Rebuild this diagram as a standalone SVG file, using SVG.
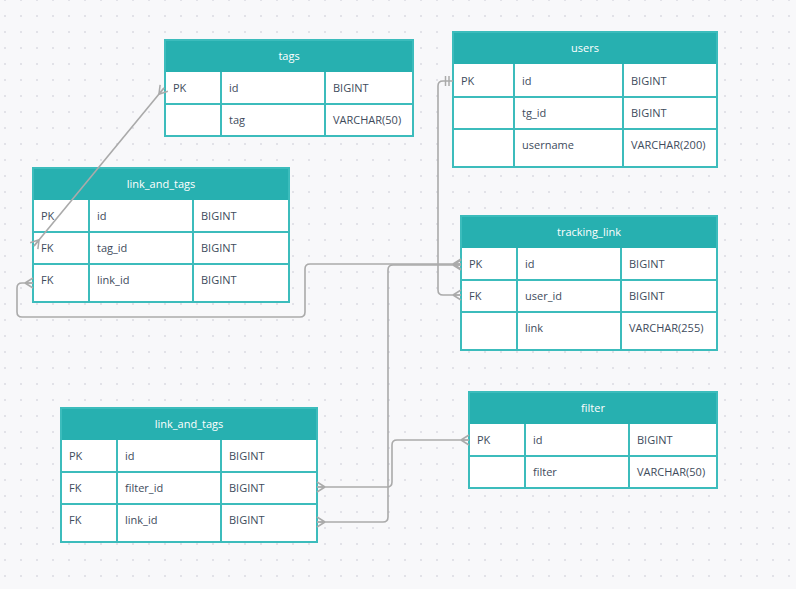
<svg xmlns="http://www.w3.org/2000/svg" width="796" height="589" viewBox="0 0 796 589">
<defs>
<pattern id="dots" patternUnits="userSpaceOnUse" x="0" y="8" width="16" height="16">
<rect x="4" y="7" width="2" height="2" fill="#e2e2e8"/>
</pattern>
<marker id="crow" markerUnits="userSpaceOnUse" viewBox="-10 -8 12 16" markerWidth="12" markerHeight="16" refX="0" refY="0" orient="auto-start-reverse">
<path d="M -8 0 L 0 -5 M -8 0 L 0 5 M -8 0 L 0 0" fill="none" stroke="#aaaaaa" stroke-width="1.5"/>
</marker>
<marker id="one" markerUnits="userSpaceOnUse" viewBox="-10 -8 12 16" markerWidth="12" markerHeight="16" refX="0" refY="0" orient="auto-start-reverse">
<path d="M -7.5 -5 L -7.5 5 M -4 -5 L -4 5" fill="none" stroke="#aaaaaa" stroke-width="1.5"/>
</marker>
</defs>
<style>
.hdr{fill:#27b0b0;}
.box{fill:#ffffff;stroke:#3cbcbc;stroke-width:2;}
.ln{stroke:#3cbcbc;stroke-width:2;fill:none;}
.ht{font-family:"Open Sans","Noto Sans",sans-serif;font-size:11px;fill:#ffffff;text-anchor:middle;}
.t{font-family:"Open Sans","Noto Sans",sans-serif;font-size:11px;fill:#404b5c;}
.c{fill:none;stroke:#aaaaaa;stroke-width:1.6;}
</style>
<rect x="0" y="0" width="796" height="589" fill="#f8f8fa"/>
<rect x="0" y="0" width="796" height="589" fill="url(#dots)"/>

<g id="tags">
<rect class="box" x="165" y="40" width="248" height="96"/>
<rect class="hdr" x="165" y="40" width="248" height="32"/>
<path class="ln" d="M 165 104 H 413 M 221 72 V 136 M 325 72 V 136"/>
<rect class="ln" x="165" y="40" width="248" height="96"/>
<text class="ht" x="289" y="60">tags</text>
<text class="t" x="173" y="92">PK</text><text class="t" x="229" y="92">id</text><text class="t" x="333" y="92">BIGINT</text>
<text class="t" x="229" y="124">tag</text><text class="t" x="333" y="124">VARCHAR(50)</text>
</g>

<g id="users">
<rect class="box" x="453" y="32" width="264" height="135"/>
<rect class="hdr" x="453" y="32" width="264" height="32"/>
<path class="ln" d="M 453 97 H 717 M 453 129 H 717 M 514 64 V 167 M 623 64 V 167"/>
<rect class="ln" x="453" y="32" width="264" height="135"/>
<text class="ht" x="585" y="52">users</text>
<text class="t" x="461" y="85">PK</text><text class="t" x="522" y="85">id</text><text class="t" x="631" y="85">BIGINT</text>
<text class="t" x="522" y="117">tg_id</text><text class="t" x="631" y="117">BIGINT</text>
<text class="t" x="522" y="149">username</text><text class="t" x="631" y="149">VARCHAR(200)</text>
</g>

<g id="link_and_tags_top">
<rect class="box" x="33" y="168" width="256" height="134"/>
<rect class="hdr" x="33" y="168" width="256" height="32"/>
<path class="ln" d="M 33 232 H 289 M 33 264 H 289 M 89 200 V 302 M 193 200 V 302"/>
<rect class="ln" x="33" y="168" width="256" height="134"/>
<text class="ht" x="161" y="188">link_and_tags</text>
<text class="t" x="41" y="220">PK</text><text class="t" x="97" y="220">id</text><text class="t" x="201" y="220">BIGINT</text>
<text class="t" x="41" y="252">FK</text><text class="t" x="97" y="252">tag_id</text><text class="t" x="201" y="252">BIGINT</text>
<text class="t" x="41" y="284">FK</text><text class="t" x="97" y="284">link_id</text><text class="t" x="201" y="284">BIGINT</text>
</g>

<g id="tracking_link">
<rect class="box" x="461" y="216" width="256" height="134"/>
<rect class="hdr" x="461" y="216" width="256" height="32"/>
<path class="ln" d="M 461 280 H 717 M 461 312 H 717 M 517 248 V 350 M 621 248 V 350"/>
<rect class="ln" x="461" y="216" width="256" height="134"/>
<text class="ht" x="589" y="236">tracking_link</text>
<text class="t" x="469" y="268">PK</text><text class="t" x="525" y="268">id</text><text class="t" x="629" y="268">BIGINT</text>
<text class="t" x="469" y="300">FK</text><text class="t" x="525" y="300">user_id</text><text class="t" x="629" y="300">BIGINT</text>
<text class="t" x="525" y="332">link</text><text class="t" x="629" y="332">VARCHAR(255)</text>
</g>

<g id="link_and_tags_bottom">
<rect class="box" x="61" y="408" width="256" height="134"/>
<rect class="hdr" x="61" y="408" width="256" height="32"/>
<path class="ln" d="M 61 472 H 317 M 61 504 H 317 M 117 440 V 542 M 221 440 V 542"/>
<rect class="ln" x="61" y="408" width="256" height="134"/>
<text class="ht" x="189" y="428">link_and_tags</text>
<text class="t" x="69" y="460">PK</text><text class="t" x="125" y="460">id</text><text class="t" x="229" y="460">BIGINT</text>
<text class="t" x="69" y="492">FK</text><text class="t" x="125" y="492">filter_id</text><text class="t" x="229" y="492">BIGINT</text>
<text class="t" x="69" y="524">FK</text><text class="t" x="125" y="524">link_id</text><text class="t" x="229" y="524">BIGINT</text>
</g>

<g id="filter">
<rect class="box" x="469" y="392" width="248" height="96"/>
<rect class="hdr" x="469" y="392" width="248" height="32"/>
<path class="ln" d="M 469 456 H 717 M 525 424 V 488 M 629 424 V 488"/>
<rect class="ln" x="469" y="392" width="248" height="96"/>
<text class="ht" x="593" y="412">filter</text>
<text class="t" x="477" y="444">PK</text><text class="t" x="533" y="444">id</text><text class="t" x="637" y="444">BIGINT</text>
<text class="t" x="533" y="476">filter</text><text class="t" x="637" y="476">VARCHAR(50)</text>
</g>

<g id="connectors">
<path class="c" d="M 164 88 L 34 246" marker-start="url(#crow)" marker-end="url(#crow)"/>
<path class="c" d="M 453 81 L 443 81 Q 438 81 438 86 L 438 290 Q 438 295 443 295 L 461 295" marker-start="url(#one)" marker-end="url(#crow)"/>
<path class="c" d="M 461 264 L 310 264 Q 305 264 305 269 L 305 312 Q 305 317 300 317 L 22 317 Q 17 317 17 312 L 17 288 Q 17 283 22 283 L 33 283" marker-start="url(#crow)" marker-end="url(#crow)"/>
<path class="c" d="M 461 265 L 393 265 Q 388 265 388 270 L 388 517 Q 388 522 383 522 L 317 522" marker-start="url(#crow)" marker-end="url(#crow)"/>
<path class="c" d="M 469 440 L 397 440 Q 392 440 392 445 L 392 482 Q 392 487 387 487 L 317 487" marker-start="url(#crow)" marker-end="url(#crow)"/>
</g>
</svg>
